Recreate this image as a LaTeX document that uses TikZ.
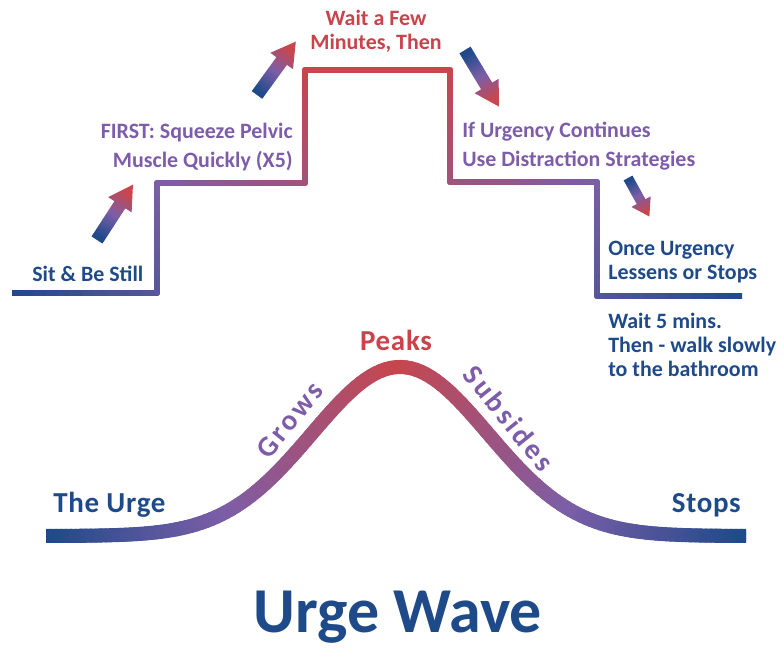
\documentclass[tikz,border=0pt]{standalone}
\usepackage{fontspec}
\setmainfont{Carlito}
\newfontfamily\wavefont{Carlito}[LetterSpace=2.5]
\newfontfamily\slopefont{Carlito}[LetterSpace=10]
\usepackage{tikz}
\definecolor{wavenavy}{HTML}{1F4A89}
\definecolor{wavepurple}{HTML}{7B5EA8}
\definecolor{wavered}{HTML}{C8464C}
\definecolor{textpurple}{HTML}{7D5CA9}
\definecolor{textred}{HTML}{C9434A}
\newcommand{\setwavecolor}[1]{%
  \pgfmathsetmacro\wavet{#1}%
  \ifdim\wavet pt<0.5pt
    \pgfmathsetmacro\wavep{200*\wavet}%
    \colorlet{wavecol}{wavepurple!\wavep!wavenavy}%
  \else
    \pgfmathsetmacro\wavep{200*(\wavet-0.5)}%
    \colorlet{wavecol}{wavered!\wavep!wavepurple}%
  \fi}

\begin{document}
\begin{tikzpicture}[x=0.025cm, y=0.025cm]
\tikzset{steptext/.style={inner sep=0pt, font=\fontsize{15.6}{17.1}\selectfont\bfseries},
  widetext/.style={inner sep=0pt, font=\fontsize{15.6}{20.3}\selectfont\bfseries},
  wavetext/.style={inner sep=0pt, font=\wavefont\fontsize{20.6}{24}\selectfont\bfseries},
  slopetext/.style={inner sep=0pt, font=\slopefont\fontsize{20.6}{24}\selectfont\bfseries},
  stair line/.style={line width=4.3pt, line cap=round},
  wave line/.style={line width=10pt, line cap=round}}
\useasboundingbox (0,0) rectangle (784,660);
\begin{scope}
\clip (12,0) rectangle (742,660);
\foreach \xa/\ya/\xb/\yb/\ta/\tb in {12/367/157/367/0/0.3, 157/367/157/477/0.3/0.5, 157/477/305/477/0.5/0.75, 305/477/305/590/0.75/1, 305/590/450/590/1/1, 450/590/450/478/1/0.75, 450/478/597/478/0.75/0.5, 597/478/597/364/0.5/0.3, 597/364/742/364/0.3/0}{
  \foreach \k in {1,...,12}{
    \pgfmathsetmacro\fa{(\k-1)/12}
    \pgfmathsetmacro\fb{\k/12}
    \setwavecolor{\ta+(\tb-\ta)*(\k-0.5)/12}
    \draw[stair line, wavecol] ({\xa+(\xb-\xa)*\fa},{\ya+(\yb-\ya)*\fa}) -- ({\xa+(\xb-\xa)*\fb},{\ya+(\yb-\ya)*\fb});
  }
}
\end{scope}
\begin{scope}
\clip (46,0) rectangle (746,660);
\foreach \i in {0,...,139}{
  \pgfmathsetmacro\xa{46+5*\i}
  \pgfmathsetmacro\xb{\xa+5}
  \pgfmathsetmacro\ua{(\xa-400)/88}
  \pgfmathsetmacro\ub{(\xb-400)/88}
  \pgfmathsetmacro\ya{124+169*exp(-0.5*\ua*\ua)}
  \pgfmathsetmacro\yb{124+169*exp(-0.5*\ub*\ub)}
  \setwavecolor{max(0,1-abs(\xa+2.5-400)/345)}
  \draw[wave line, wavecol] (\xa,\ya) -- (\xb,\yb);
}
\end{scope}
\foreach \tx/\ty/\ang/\len/\shaft/\head/\hl in {97/420/57/66/6.5/14/24, 257/565/54/66/6.5/14/24, 465/610/-59/66/6.5/14/24, 628/482/-61/44/5/11/17}{
  \pgfmathsetmacro\shang{\ang-90}
  \begin{scope}[shift={(\tx,\ty)}, rotate=\ang]
  \shade[top color=wavered, bottom color=wavenavy, middle color=wavepurple, shading angle=\shang] (0,-\shaft) -- ({\len-\hl},-\shaft) -- ({\len-\hl},-\head) -- (\len,0) -- ({\len-\hl},\head) -- ({\len-\hl},\shaft) -- (0,\shaft) -- cycle;
  \end{scope}
}
\node[steptext, wavenavy, anchor=base west] (sit) at (32,378) {Sit \& Be Still};
\node[widetext, textpurple, align=right, anchor=north east] (first) at (293,537) {FIRST: Squeeze Pelvic\\Muscle Quickly (X5)};
\node[steptext, textred, align=center, anchor=north] (fewmin) at (376,650) {Wait a Few\\Minutes, Then};
\node[widetext, textpurple, align=left, anchor=north west] (contin) at (462,538) {If Urgency Continues\\Use Distraction Strategies};
\node[steptext, wavenavy, align=left, anchor=north west] (lessen) at (608,419) {Once Urgency\\Lessens or Stops};
\node[steptext, wavenavy, align=left, anchor=north west] (waitfive) at (608,347) {Wait 5 mins.\\Then - walk slowly\\to the bathroom};
\node[wavetext, wavenavy, anchor=base west] (urge) at (53,148) {The Urge};
\node[wavetext, wavenavy, anchor=base east] (stops) at (741,148) {Stops};
\node[wavetext, textred, anchor=base] (peaks) at (396,310) {Peaks};
\node[slopetext, textpurple, rotate=51] (grows) at (290,240) {Grows};
\node[slopetext, textpurple, rotate=-51] (subsides) at (509,242) {Subsides};
\node[inner sep=0pt, wavenavy, font=\fontsize{45.5}{50}\selectfont\bfseries, anchor=base] (title) at (398,28) {Urge Wave};
\end{tikzpicture}
\end{document}
